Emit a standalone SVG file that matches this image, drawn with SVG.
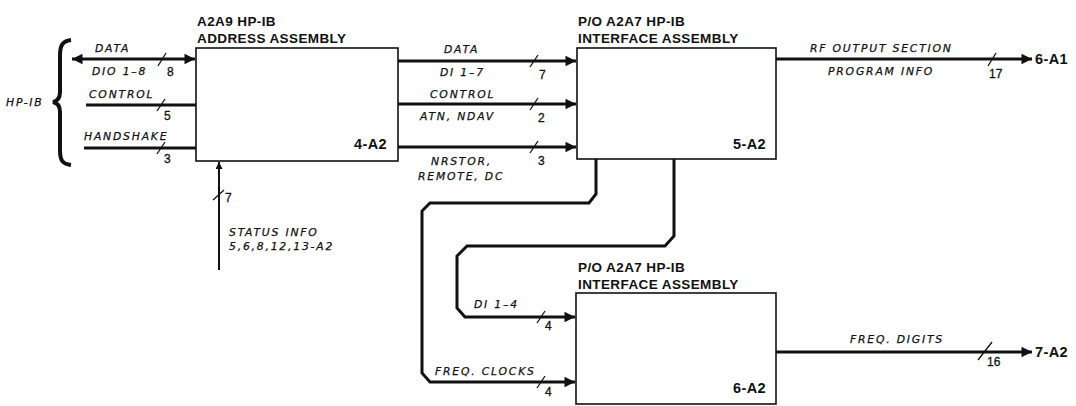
<svg xmlns="http://www.w3.org/2000/svg" width="1076" height="406" viewBox="0 0 1076 406">
<defs>
<marker id="ah" viewBox="0 0 10 10" refX="10" refY="5" markerWidth="5" markerHeight="3.5" orient="auto" markerUnits="strokeWidth"><path d="M0,0 L10,5 L0,10 z" fill="#111"/></marker>
<marker id="ahs" viewBox="0 0 10 10" refX="10" refY="5" markerWidth="5" markerHeight="3.5" orient="auto-start-reverse" markerUnits="strokeWidth"><path d="M0,0 L10,5 L0,10 z" fill="#111"/></marker>
</defs>
<style>
.box{fill:#fff;stroke:#111;stroke-width:1.6}
.t{font-family:"Liberation Sans",Arial,sans-serif;font-weight:bold;font-size:13.5px;letter-spacing:0.4px;fill:#111}
.id{font-family:"Liberation Sans",Arial,sans-serif;font-weight:bold;font-size:14.5px;letter-spacing:0.4px;fill:#111}
.l{font-family:"DejaVu Sans",sans-serif;font-style:italic;font-size:10.8px;letter-spacing:1.8px;fill:#111;stroke:#111;stroke-width:0.25}
.n{font-family:"Liberation Sans",Arial,sans-serif;font-size:12px;fill:#111;stroke:#111;stroke-width:0.3}
.w{fill:none;stroke:#111;stroke-width:3}
.wt{fill:none;stroke:#111;stroke-width:2}
.s{fill:none;stroke:#111;stroke-width:1.3}
</style>
<rect width="1076" height="406" fill="#fff"/>

<g id="hpib">
<path d="M71,40 C62,41 60,46 60,56 L60,92 C60,98 58,101 53,102 C58,103 60,106 60,112 L60,150 C60,160 62,164 71,165" fill="none" stroke="#111" stroke-width="4"/>
<text class="l" x="6" y="106">HP-IB</text>
</g>

<g id="n4A2">
<text class="t" x="197" y="26">A2A9 HP-IB</text>
<text class="t" x="197" y="43">ADDRESS ASSEMBLY</text>
<rect class="box" x="196" y="48" width="202" height="113"/>
<text class="id" x="387" y="149" text-anchor="end">4-A2</text>
</g>

<g id="n5A2">
<text class="t" x="578" y="26">P/O A2A7 HP-IB</text>
<text class="t" x="578" y="43">INTERFACE ASSEMBLY</text>
<rect class="box" x="577" y="48" width="199" height="111"/>
<text class="id" x="766" y="149" text-anchor="end">5-A2</text>
</g>

<g id="n6A2">
<text class="t" x="578" y="272">P/O A2A7 HP-IB</text>
<text class="t" x="578" y="289">INTERFACE ASSEMBLY</text>
<rect class="box" x="576" y="293" width="200" height="111"/>
<text class="id" x="766" y="393" text-anchor="end">6-A2</text>
</g>

<g id="connectors">
<!-- left inputs -->
<line class="w" x1="72" y1="59" x2="195" y2="59" marker-start="url(#ahs)" marker-end="url(#ah)"/>
<line class="w" x1="86" y1="105" x2="196" y2="105"/>
<line class="w" x1="84" y1="148" x2="196" y2="148"/>
<line class="s" x1="158" y1="66" x2="166" y2="53"/>
<line class="s" x1="157" y1="111" x2="165" y2="99"/>
<line class="s" x1="157" y1="154" x2="165" y2="142"/>
<text class="l" x="95" y="52">DATA</text>
<text class="l" x="92" y="75">DIO 1–8</text>
<text class="n" x="167" y="76">8</text>
<text class="l" x="89" y="98">CONTROL</text>
<text class="n" x="164" y="120">5</text>
<text class="l" x="84" y="140">HANDSHAKE</text>
<text class="n" x="164" y="163">3</text>

<!-- status info -->
<line class="wt" x1="219" y1="270" x2="219" y2="162" marker-end="url(#ah)"/>
<line class="s" x1="213" y1="200" x2="224" y2="190"/>
<text class="n" x="225" y="202">7</text>
<text class="l" x="229" y="236">STATUS INFO</text>
<text class="l" x="229" y="250">5,6,8,12,13-A2</text>

<!-- 4-A2 to 5-A2 -->
<line class="w" x1="398" y1="61" x2="576" y2="61" marker-end="url(#ah)"/>
<line class="w" x1="398" y1="104" x2="576" y2="104" marker-end="url(#ah)"/>
<line class="w" x1="398" y1="147" x2="576" y2="147" marker-end="url(#ah)"/>
<line class="s" x1="530" y1="67" x2="538" y2="55"/>
<line class="s" x1="530" y1="110" x2="538" y2="98"/>
<line class="s" x1="530" y1="153" x2="538" y2="141"/>
<text class="l" x="444" y="53">DATA</text>
<text class="l" x="440" y="76">DI 1–7</text>
<text class="n" x="539" y="79">7</text>
<text class="l" x="430" y="98">CONTROL</text>
<text class="l" x="420" y="120">ATN, NDAV</text>
<text class="n" x="538" y="122">2</text>
<text class="l" x="431" y="165">NRSTOR,</text>
<text class="l" x="418" y="180">REMOTE, DC</text>
<text class="n" x="538" y="165">3</text>

<!-- RF output -->
<line class="w" x1="776" y1="59" x2="1032" y2="59" marker-end="url(#ah)"/>
<line class="s" x1="988" y1="66" x2="996" y2="53"/>
<text class="l" x="810" y="52">RF OUTPUT SECTION</text>
<text class="l" x="828" y="75">PROGRAM INFO</text>
<text class="n" x="989" y="78">17</text>
<text class="id" x="1035" y="64">6-A1</text>

<!-- 5-A2 to 6-A2 -->
<path class="w" d="M596,159 L596,194 L589,203 L430,203 L422,211 L422,373 L430,382 L575,382" marker-end="url(#ah)"/>
<path class="w" d="M674,159 L674,236 L665,246 L467,246 L457,256 L457,308 L465,317 L575,317" marker-end="url(#ah)"/>
<line class="s" x1="537" y1="323" x2="545" y2="311"/>
<line class="s" x1="537" y1="388" x2="545" y2="376"/>
<text class="l" x="474" y="308">DI 1–4</text>
<text class="n" x="545" y="330">4</text>
<text class="l" x="435" y="375">FREQ. CLOCKS</text>
<text class="n" x="545" y="396">4</text>

<!-- FREQ digits -->
<line class="w" x1="776" y1="352" x2="1032" y2="352" marker-end="url(#ah)"/>
<line class="s" x1="978" y1="360" x2="992" y2="342"/>
<text class="l" x="850" y="343">FREQ. DIGITS</text>
<text class="n" x="987" y="366">16</text>
<text class="id" x="1035" y="357">7-A2</text>
</g>
</svg>
